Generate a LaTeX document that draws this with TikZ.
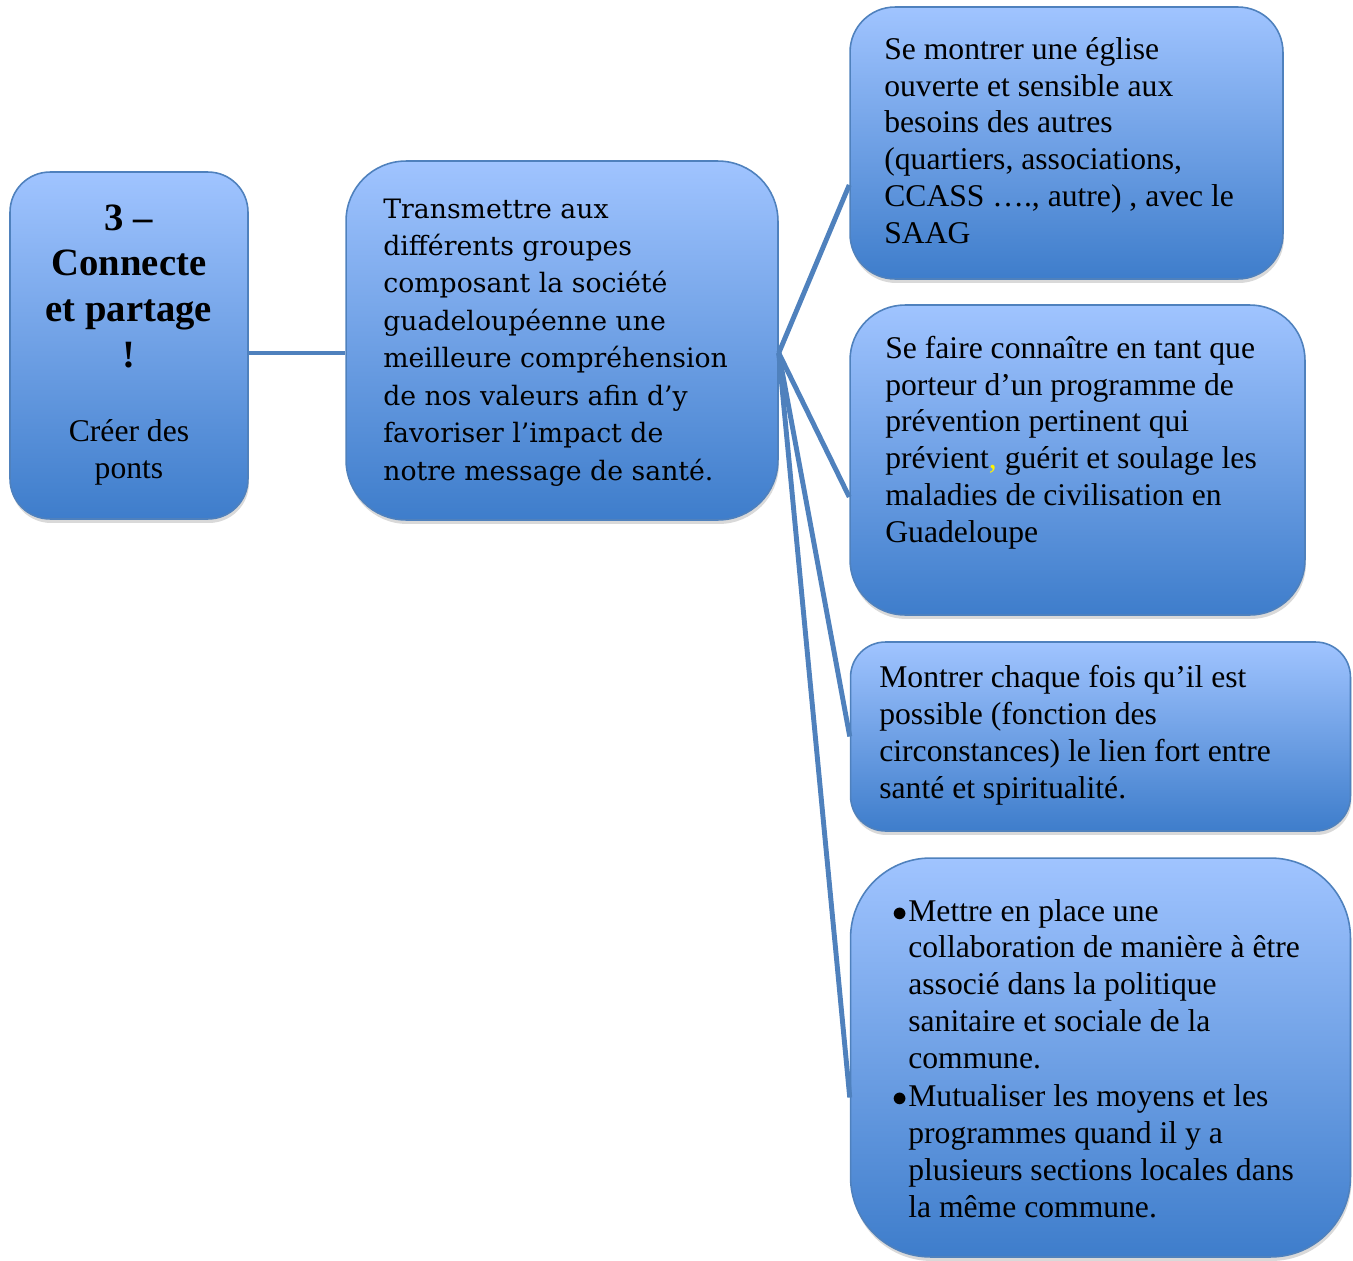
\documentclass[tikz,border=0pt]{standalone}
\usepackage{fontspec}
\setmainfont{Liberation Serif}
\newfontfamily\midfont{DejaVu Serif}
\usetikzlibrary{positioning,shadows}
\definecolor{boxtop}{RGB}{160,196,255}
\definecolor{boxbot}{RGB}{62,125,203}
\definecolor{boxline}{RGB}{79,129,189}

\begin{document}
\begin{tikzpicture}[x=0.02cm,y=-0.02cm,
  box/.style={rectangle,draw=boxline,line width=0.9pt,top color=boxtop,bottom color=boxbot,
    drop shadow={shadow xshift=0.02cm,shadow yshift=-0.08cm,opacity=0.3}},
  txt/.style={inner sep=0pt,anchor=base west,align=left,font=\fontsize{18}{20.9}\selectfont},
  link/.style={draw=boxline,line width=2.8pt}]
\useasboundingbox (0,0) rectangle (1353,1261);

\node[box,rounded corners=0.8cm,minimum width=4.76cm,minimum height=6.94cm] (theme) at (129,345.5) {};
\node[box,rounded corners=1.2cm,minimum width=8.64cm,minimum height=7.18cm] (mid) at (562,340.5) {};
\node[box,rounded corners=0.9cm,minimum width=8.66cm,minimum height=5.44cm] (b1) at (1066.5,143) {};
\node[box,rounded corners=1.1cm,minimum width=9.10cm,minimum height=6.20cm] (b2) at (1077.5,460) {};
\node[box,rounded corners=0.7cm,minimum width=10.0cm,minimum height=3.78cm] (b3) at (1100.5,736.5) {};
\node[box,rounded corners=1.6cm,minimum width=10.0cm,minimum height=7.98cm] (b4) at (1100.5,1057.5) {};

\coordinate (hub) at ([yshift=-0.25cm]mid.east);
\draw[link] (theme.east |- hub) -- (hub -| mid.west);
\draw[link] (hub) -- ([yshift=-0.84cm]b1.west);
\draw[link] (hub) -- ([yshift=-0.74cm]b2.west);
\draw[link] (hub) -- (b3.west);
\draw[link] (hub) -- ([yshift=-0.8cm]b4.west);

\node[txt,font=\bfseries\fontsize{22}{25.9}\selectfont,align=center,anchor=base] (titre) at (129,367)
  {3 –\\Connecte\\et partage\\!};
\node[txt,align=center,anchor=base] (sous) at (129,478) {Créer des\\ponts};

\node[txt,font=\midfont\fontsize{15.2}{21.3}\selectfont] (midtxt) at (383,480)
  {Transmettre aux\\différents groupes\\composant la société\\guadeloupéenne une\\meilleure compréhension\\de nos valeurs afin d’y\\favoriser l’impact de\\notre message de santé.};

\node[txt] (t1) at (884,243)
  {Se montrer une église\\ouverte et sensible aux\\besoins des autres\\(quartiers, associations,\\CCASS …., autre) , avec le\\SAAG};
\node[txt] (t2) at (885,542)
  {Se faire connaître en tant que\\porteur d’un programme de\\prévention pertinent qui\\prévient\textcolor{yellow}{,} guérit et soulage les\\maladies de civilisation en\\Guadeloupe};
\node[txt] (t3) at (879,798)
  {Montrer chaque fois qu’il est\\possible (fonction des\\circonstances) le lien fort entre\\santé et spiritualité.};
\node[txt] (t4) at (892,1217)
  {\makebox[0.32cm][l]{$\bullet$}Mettre en place une\\\hspace*{0.32cm}collaboration de manière à être\\\hspace*{0.32cm}associé dans la politique\\\hspace*{0.32cm}sanitaire et sociale de la\\\hspace*{0.32cm}commune.\\[0.04cm]\makebox[0.32cm][l]{$\bullet$}Mutualiser les moyens et les\\\hspace*{0.32cm}programmes quand il y a\\\hspace*{0.32cm}plusieurs sections locales dans\\\hspace*{0.32cm}la même commune.};
\end{tikzpicture}
\end{document}
